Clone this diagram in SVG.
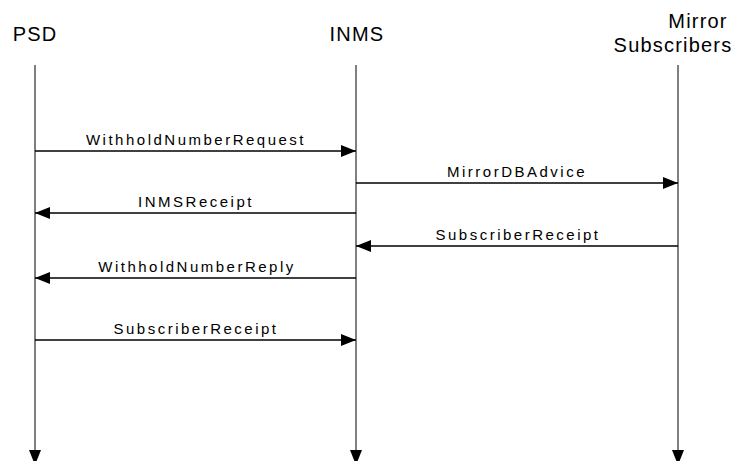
<svg xmlns="http://www.w3.org/2000/svg" width="731" height="461" viewBox="0 0 731 461">
<style>
.hdr{font-family:"Liberation Sans",Arial,sans-serif;font-size:20px;letter-spacing:1.2px;fill:#000;text-anchor:middle}
.lbl{font-family:"Liberation Sans",Arial,sans-serif;font-size:15px;letter-spacing:2.5px;fill:#000;text-anchor:middle}
.life{stroke:#000;stroke-width:1;fill:none}
.msg{stroke:#000;stroke-width:1.3;fill:none}
</style>
<defs>
<marker id="ah" markerWidth="15" markerHeight="12" refX="15" refY="6" orient="auto" markerUnits="userSpaceOnUse">
<path d="M0,0 L15,6 L0,12 Z" fill="#000"/>
</marker>
</defs>
<rect width="731" height="461" fill="#fff"/>
<g id="PSD">
<text class="hdr" x="35" y="41">PSD</text>
</g>
<g id="INMS">
<text class="hdr" x="357" y="41">INMS</text>
</g>
<g id="MirrorSubscribers">
<text class="hdr" x="698" y="28">Mirror</text>
<text class="hdr" x="673" y="52">Subscribers</text>
</g>
<g id="connectors">
<line class="life" x1="35" y1="65" x2="35" y2="465" marker-end="url(#ah)"/>
<line class="life" x1="356" y1="65" x2="356" y2="465" marker-end="url(#ah)"/>
<line class="life" x1="678" y1="65" x2="678" y2="465" marker-end="url(#ah)"/>
<line class="msg" x1="35" y1="151" x2="356" y2="151" marker-end="url(#ah)"/>
<text class="lbl" x="196" y="145">WithholdNumberRequest</text>
<line class="msg" x1="356" y1="183" x2="678" y2="183" marker-end="url(#ah)"/>
<text class="lbl" x="517" y="177">MirrorDBAdvice</text>
<line class="msg" x1="356" y1="213" x2="35" y2="213" marker-end="url(#ah)"/>
<text class="lbl" x="196" y="207">INMSReceipt</text>
<line class="msg" x1="678" y1="246" x2="356" y2="246" marker-end="url(#ah)"/>
<text class="lbl" x="518" y="240">SubscriberReceipt</text>
<line class="msg" x1="356" y1="278" x2="35" y2="278" marker-end="url(#ah)"/>
<text class="lbl" x="197" y="272">WithholdNumberReply</text>
<line class="msg" x1="35" y1="340" x2="356" y2="340" marker-end="url(#ah)"/>
<text class="lbl" x="196" y="334">SubscriberReceipt</text>
</g>
</svg>
